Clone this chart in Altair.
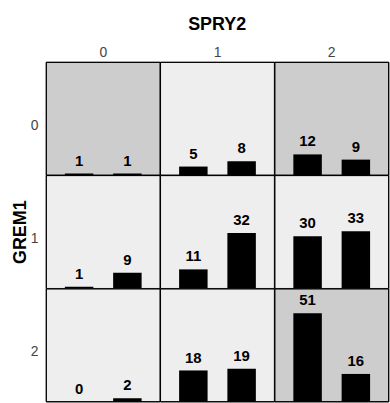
import altair as alt
import pandas as pd

# cell identifiers (GREM1 row, SPRY2 column)
grem1 = [0, 0, 0, 1, 1, 1, 2, 2, 2]
spry2 = [0, 1, 2, 0, 1, 2, 0, 1, 2]
first_bar = [1, 5, 12, 1, 11, 30, 0, 18, 51]
second_bar = [1, 8, 9, 9, 32, 33, 2, 19, 16]
shade = ["dark", "light", "dark", "light", "light", "light", "light", "light", "dark"]

rows = []
for g, s, a, b, sh in zip(grem1, spry2, first_bar, second_bar, shade):
    rows.append(dict(GREM1=g, SPRY2=s, grp="A", value=a, shade=sh))
    rows.append(dict(GREM1=g, SPRY2=s, grp="B", value=b, shade=sh))
df = pd.DataFrame(rows)

W, H = 114.67, 113.67
FONT = "Liberation Sans"

xenc = alt.X("grp:N", axis=None, scale=alt.Scale(paddingInner=0.41, paddingOuter=0.385))
yenc = alt.Y("value:Q", axis=None, scale=alt.Scale(domain=[0, 65], nice=False))

bg = alt.Chart().mark_rect().encode(
    x=alt.value(0), x2=alt.value(W), y=alt.value(0), y2=alt.value(H),
    color=alt.Color("shade:N", scale=alt.Scale(domain=["dark", "light"], range=["#cdcdcd", "#eeeeee"]), legend=None),
)
bars = alt.Chart().mark_bar(color="black").encode(x=xenc, y=yenc)
text = alt.Chart().mark_text(dy=-5, baseline="bottom", fontSize=15, fontWeight="bold", font=FONT, color="black").encode(
    x=xenc, y=yenc, text="value:Q"
)
border = alt.Chart().mark_rect(fillOpacity=0, stroke="black", strokeWidth=1).encode(
    x=alt.value(0), x2=alt.value(W), y=alt.value(0), y2=alt.value(H),
)

chart = alt.layer(bg, bars, text, border, data=df).properties(width=W, height=H).facet(
    row=alt.Row("GREM1:O", header=alt.Header(
        title="GREM1", titleFontSize=18, titleFontWeight="bold", titleFont=FONT, titleAngle=270,
        titleOrient="left", labelOrient="left", labelAngle=0, labelFontSize=14, labelFont=FONT,
        labelColor="#444444", labelPadding=0, titlePadding=-27.6, labelBaseline="top")),
    column=alt.Column("SPRY2:O", header=alt.Header(
        title="SPRY2", titleFontSize=18, titleFontWeight="bold", titleFont=FONT,
        labelFontSize=14, labelFont=FONT, labelColor="#444444", labelPadding=2.6, titlePadding=1.6)),
    spacing=0,
    bounds="flush",
).properties(
    padding={"left": 11.6, "top": 14.4, "right": 0, "bottom": 0}
).configure_view(strokeWidth=0).configure(font=FONT, background="white")

chart.save("out.html", embed_options={"renderer": "svg", "actions": False})
